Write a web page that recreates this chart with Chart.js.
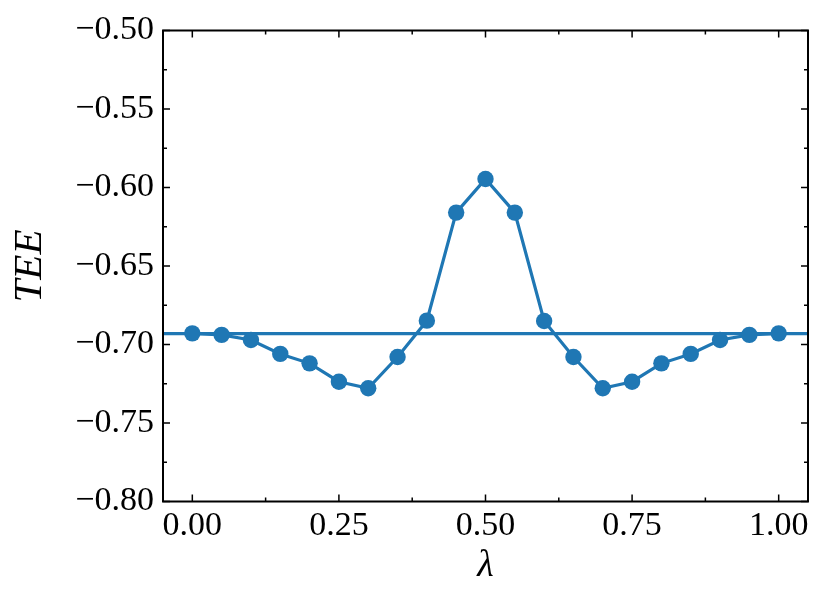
<!DOCTYPE html>
<html>
<head>
<meta charset="utf-8">
<script src="https://cdn.jsdelivr.net/npm/chart.js@4/dist/chart.umd.min.js"></script>
<style>
  html, body { margin: 0; padding: 0; background: #ffffff; }
  #wrap { width: 830px; height: 604px; }
</style>
</head>
<body>
<div id="wrap"><canvas id="c" width="830" height="604"></canvas></div>
<script>
// ---- data ----
const lambdas = [0.00, 0.05, 0.10, 0.15, 0.20, 0.25, 0.30, 0.35, 0.40, 0.45, 0.50,
                 0.55, 0.60, 0.65, 0.70, 0.75, 0.80, 0.85, 0.90, 0.95, 1.00];
const teeValues = [-0.6929, -0.6939, -0.6971, -0.7060, -0.7120, -0.7237, -0.7279, -0.7080, -0.6848, -0.6160, -0.5946,
                   -0.6160, -0.6850, -0.7080, -0.7279, -0.7237, -0.7120, -0.7060, -0.6971, -0.6939, -0.6929];
const referenceLevel = -0.6931;
const xRange = [-0.05, 1.05];
const yRange = [-0.80, -0.50];
const xMajorTicks = [0.00, 0.25, 0.50, 0.75, 1.00];
const xMinorTicks = [0.125, 0.375, 0.625, 0.875];
const yMajorTicks = [-0.80, -0.75, -0.70, -0.65, -0.60, -0.55, -0.50];
const yMinorTicks = [-0.775, -0.725, -0.675, -0.625, -0.575, -0.525];

const blue = '#1f77b4';
const serif = "'Liberation Serif', 'DejaVu Serif', serif";
const fmt = v => v.toFixed(2).replace('-', '\u2212');

const innerTicks = {
  id: 'innerTicks',
  afterDraw(chart) {
    const ctx = chart.ctx;
    const a = chart.chartArea;
    const xs = chart.scales.x, ys = chart.scales.y;
    ctx.save();
    ctx.strokeStyle = '#000';
    ctx.lineWidth = 1.5;
    const major = 7, minor = 4;
    ctx.beginPath();
    const xt = (vals, len) => vals.forEach(v => {
      const px = xs.getPixelForValue(v);
      ctx.moveTo(px, a.bottom); ctx.lineTo(px, a.bottom - len);
      ctx.moveTo(px, a.top); ctx.lineTo(px, a.top + len);
    });
    const yt = (vals, len) => vals.forEach(v => {
      const py = ys.getPixelForValue(v);
      ctx.moveTo(a.left, py); ctx.lineTo(a.left + len, py);
      ctx.moveTo(a.right, py); ctx.lineTo(a.right - len, py);
    });
    xt(xMajorTicks, major); xt(xMinorTicks, minor);
    yt(yMajorTicks, major); yt(yMinorTicks, minor);
    ctx.stroke();
    ctx.lineWidth = 2;
    ctx.strokeRect(a.left, a.top, a.right - a.left, a.bottom - a.top);
    ctx.restore();
  }
};

new Chart(document.getElementById('c'), {
  type: 'line',
  data: {
    datasets: [
      {
        data: lambdas.map((x, i) => ({ x: x, y: teeValues[i] })),
        borderColor: blue,
        backgroundColor: blue,
        borderWidth: 3.2,
        pointRadius: 8.2,
        pointBorderWidth: 0,
        pointBackgroundColor: blue,
        tension: 0
      },
      {
        data: xRange.map(x => ({ x: x, y: referenceLevel })),
        borderColor: blue,
        borderWidth: 3.2,
        pointRadius: 0,
        tension: 0
      }
    ]
  },
  options: {
    responsive: false,
    animation: false,
    layout: { padding: { top: 30.5, right: 22, left: 0, bottom: 0 } },
    plugins: { legend: { display: false }, tooltip: { enabled: false } },
    scales: {
      x: {
        type: 'linear',
        min: xRange[0], max: xRange[1],
        afterBuildTicks: s => { s.ticks = xMajorTicks.map(v => ({ value: v })); },
        afterFit: s => { s.height = 102.5; },
        grid: { display: false, drawTicks: false },
        border: { display: false },
        ticks: { callback: v => fmt(v), color: '#000', padding: 4, maxRotation: 0,
                 font: { family: serif, size: 34 } },
        title: { display: true, text: '\u03bb', color: '#000',
                 font: { family: serif, size: 38, style: 'italic' },
                 padding: { top: 0, bottom: 15 } }
      },
      y: {
        type: 'linear',
        min: yRange[0], max: yRange[1],
        afterBuildTicks: s => { s.ticks = yMajorTicks.map(v => ({ value: v })); },
        afterFit: s => { s.width = 163; },
        grid: { display: false, drawTicks: false },
        border: { display: false },
        ticks: { callback: v => fmt(v), color: '#000', padding: 9,
                 font: { family: serif, size: 34 } },
        title: { display: true, text: 'TEE', color: '#000',
                 font: { family: serif, size: 41, style: 'italic' },
                 padding: { top: 6, bottom: 0 } }
      }
    }
  },
  plugins: [innerTicks]
});
</script>
</body>
</html>
